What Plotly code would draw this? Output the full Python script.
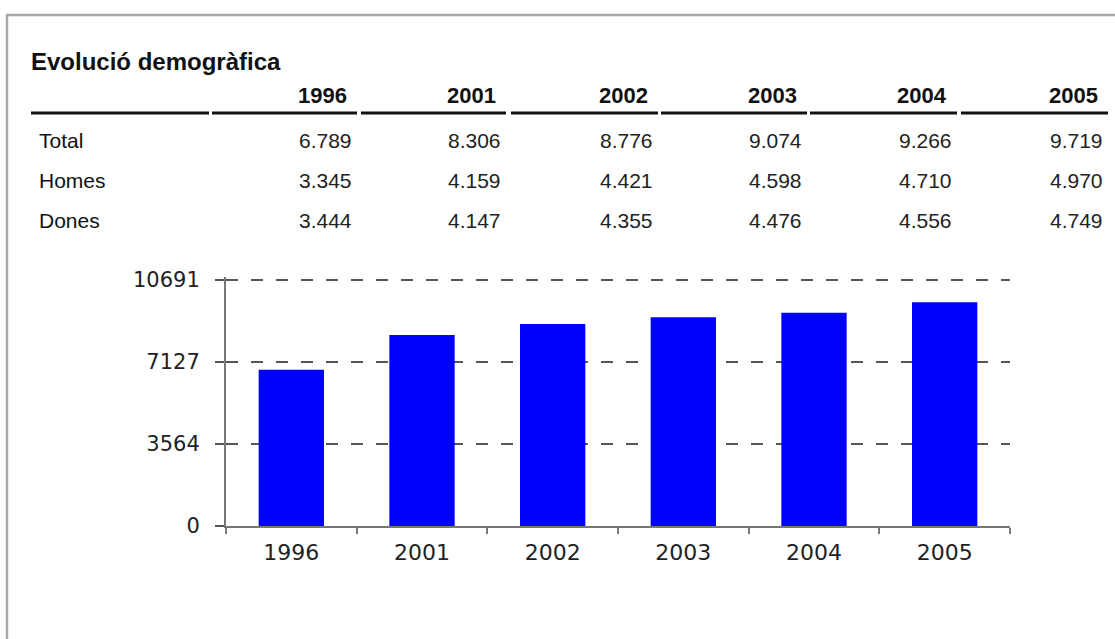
import plotly.graph_objects as go

# ---- data ----
years = ["1996", "2001", "2002", "2003", "2004", "2005"]
total = [6789, 8306, 8776, 9074, 9266, 9719]
homes = [3345, 4159, 4421, 4598, 4710, 4970]
dones = [3444, 4147, 4355, 4476, 4556, 4749]
row_labels = ["Total", "Homes", "Dones"]
y_ticks = [0, 3564, 7127, 10691]
title_text = "Evolució demogràfica"

# ---- layout geometry (pixels) ----
W_FIG, H_FIG = 1115, 639
TOP_GRID_Y = 280               # pixel row of the top gridline
L, R, T, B = 226, 1010, 277, 526
PW, PH = R - L, B - T
# keep the top tick exactly at TOP_GRID_Y while leaving room for its gridline
Y_MAX = y_ticks[-1] * (B - T) / (B - TOP_GRID_Y)


def px(x):
    return (x - L) / PW


def py(y):
    return (B - y) / PH


def fmt(v):
    return f"{v:,}".replace(",", ".")


FONT = "Liberation Sans, Arial, sans-serif"
AXFONT = "DejaVu Sans, sans-serif"

fig = go.Figure()
fig.add_trace(go.Bar(x=years, y=total, marker=dict(color="#0000FF", line=dict(width=0)),
                     hoverinfo="x+y"))

annotations = []
shapes = []

# title
annotations.append(dict(text=f"<b>{title_text}</b>", x=px(29), y=py(61), xref="paper", yref="paper",
                        xanchor="left", yanchor="middle", showarrow=False,
                        font=dict(family=FONT, size=24, color="#111111")))

# header segments under the column titles
seg_starts = [31, 212, 361, 511, 661, 810, 961]
seg_ends = [209, 357, 506, 658, 807, 957, 1108]
for s, e in zip(seg_starts, seg_ends):
    shapes.append(dict(type="line", xref="paper", yref="paper", x0=px(s), x1=px(e),
                       y0=py(113), y1=py(113), line=dict(color="#111111", width=3)))

# column headers and values
col_right = seg_ends[1:]
row_y = [140, 180, 220]
rows = [total, homes, dones]
for i, yr in enumerate(years):
    annotations.append(dict(text=f"<b>{yr}</b>", x=px(col_right[i] - 8), y=py(95),
                            xref="paper", yref="paper", xanchor="right", yanchor="middle",
                            showarrow=False, font=dict(family=FONT, size=22, color="#111111")))
for r, (lab, vals) in enumerate(zip(row_labels, rows)):
    annotations.append(dict(text=lab, x=px(37), y=py(row_y[r]), xref="paper", yref="paper",
                            xanchor="left", yanchor="middle", showarrow=False,
                            font=dict(family=FONT, size=21, color="#111111")))
    for i, v in enumerate(vals):
        annotations.append(dict(text=fmt(v), x=px(col_right[i] - 3), y=py(row_y[r]),
                                xref="paper", yref="paper", xanchor="right", yanchor="middle",
                                showarrow=False, font=dict(family=FONT, size=21, color="#222222")))

# outer frame (top and left edges)
frame_col = "#A8A8A8"
shapes.append(dict(type="line", xref="paper", yref="paper", x0=px(6), x1=px(W_FIG),
                   y0=py(15), y1=py(15), line=dict(color=frame_col, width=2.5)))
shapes.append(dict(type="line", xref="paper", yref="paper", x0=px(7), x1=px(7),
                   y0=py(15), y1=py(H_FIG), line=dict(color=frame_col, width=2.5)))

fig.update_layout(
    width=W_FIG, height=H_FIG,
    margin=dict(l=L, r=W_FIG - R, t=T, b=H_FIG - B, pad=0),
    paper_bgcolor="white", plot_bgcolor="white",
    showlegend=False, bargap=0.5,
    annotations=annotations, shapes=shapes,
    xaxis=dict(type="category", showline=True, linecolor="#777777", linewidth=2,
               ticks="outside", tickson="boundaries", ticklen=6, tickcolor="#777777", tickwidth=2,
               showgrid=False, ticklabelstandoff=6,
               tickfont=dict(family=AXFONT, size=22, color="#222222")),
    yaxis=dict(range=[0, Y_MAX], tickvals=y_ticks, ticktext=[str(v) for v in y_ticks],
               showline=True, linecolor="#777777", linewidth=2, zeroline=False,
               ticks="outside", ticklen=9, tickcolor="#555555", tickwidth=2,
               showgrid=True, gridcolor="#555555", gridwidth=2, griddash="12px,13px",
               ticklabelstandoff=11,
               tickfont=dict(family=AXFONT, size=21, color="#222222")),
)

fig.write_html("out.html", config={"displayModeBar": False},
               post_script="document.body.style.margin='0px';")
